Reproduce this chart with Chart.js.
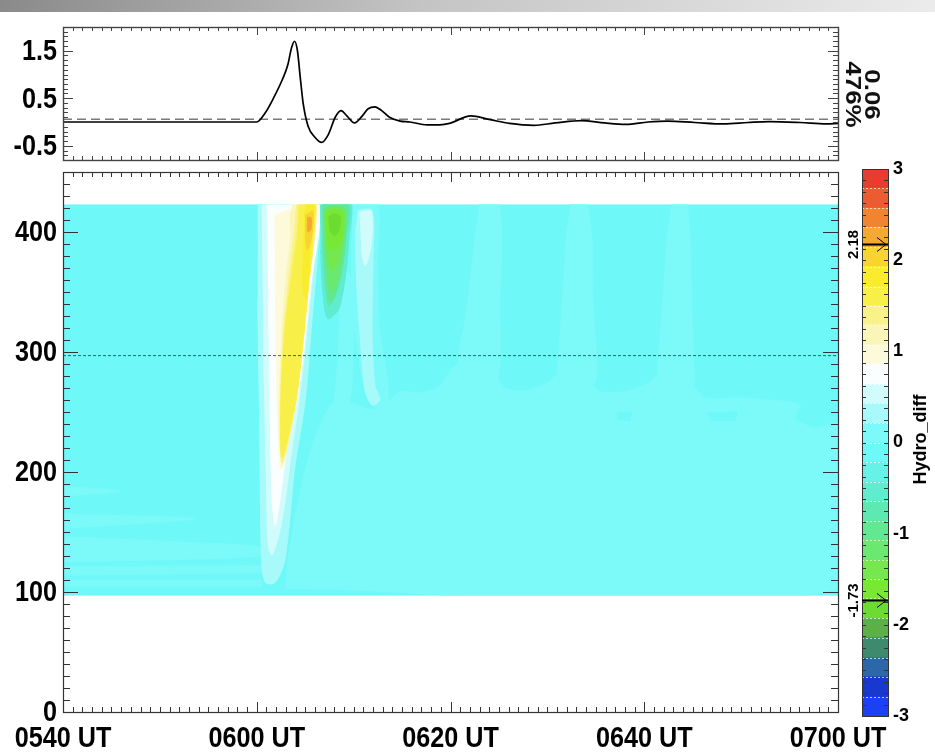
<!DOCTYPE html>
<html>
<head>
<meta charset="utf-8">
<script src="https://cdn.jsdelivr.net/npm/chart.js@4.4.1/dist/chart.umd.min.js"></script>
<style>
html,body{margin:0;padding:0;background:#fff;}
body{width:935px;height:754px;position:relative;overflow:hidden;}
#bar{position:absolute;left:0;top:0;width:935px;height:12px;background:linear-gradient(to right,#8a8a8a,#c4c4c4 45%,#ebebeb);}
canvas{position:absolute;}
</style>
</head>
<body>
<div id="bar"></div>
<canvas id="topc" width="935" height="168" style="left:0;top:0;width:935px;height:168px"></canvas>
<canvas id="mainc" width="935" height="586" style="left:0;top:168px;width:935px;height:586px"></canvas>
<canvas id="cbc" width="95" height="604" style="left:840px;top:150px;width:95px;height:604px"></canvas>
<script>
// ---------------- DATA ----------------
const timeTickValues = [0, 20, 40, 60, 80];             // minutes after 05:40 UT
const timeTickLabels = ['0540 UT', '0600 UT', '0620 UT', '0640 UT', '0700 UT'];
const altTickValues = [0, 100, 200, 300, 400];
const altTickLabels = ['0', '100', '200', '300', '400'];
const topTickValues = [-0.5, 0.5, 1.5];
const topTickLabels = ['-0.5', '0.5', '1.5'];
const cbTickValues = [-3, -2, -1, 0, 1, 2, 3];
const cbTickLabels = ['-3', '-2', '-1', '0', '1', '2', '3'];

// top panel profile
const profileTimes = [0, 20.0, 20.9, 21.7, 22.7, 23.2, 23.6, 23.9, 24.2, 24.5, 24.8, 25.3, 26.0, 26.7, 27.4, 28.1, 28.7, 29.3, 30.1, 30.9, 31.5, 32.2, 32.9, 33.7, 34.8, 35.8, 37.6, 38.9, 39.9, 42.1, 44.1, 46.1, 48.6, 50.8, 53.5, 55.9, 58.1, 60.4, 62.4, 65.2, 68.2, 70.7, 72.9, 76.1, 78.8, 80];
const profileValues = [0, 0, 0.2, 0.49, 0.92, 1.2, 1.57, 1.70, 1.5, 0.92, 0.38, -0.09, -0.32, -0.43, -0.26, 0.1, 0.24, 0.13, -0.02, 0.13, 0.28, 0.32, 0.24, 0.1, 0.02, 0.0, -0.06, -0.06, -0.03, 0.13, 0.05, -0.03, -0.07, -0.02, 0.03, -0.02, -0.05, 0.0, 0.02, -0.01, -0.04, -0.01, 0.01, -0.01, -0.04, -0.03];
const refLevel = 0.06;
const refLabel = '0.06';
const pctLabel = '476%';

// colour scale
const levels = [-3, -2.79, -2.57, -2.36, -2.14, -1.93, -1.71, -1.5, -1.29, -1.07, -0.86, -0.64, -0.43, -0.21, 0, 0.21, 0.43, 0.64, 0.86, 1.07, 1.29, 1.5, 1.71, 1.93, 2.14, 2.36, 2.57, 2.79, 3];
const bandColors = ['#1a40f8', '#1838d0', '#2c68a8', '#3e8a6e', '#5cb048', '#6cdc30', '#78e834', '#74e84c', '#6ae870', '#62e892', '#5ee8b2', '#60ecce', '#66f2e8', '#6ef8f8', '#7cf9f9', '#a8fafa', '#d2fcfc', '#fafefe', '#fdfadc', '#fbf6b8', '#f9f288', '#f8f048', '#f8ec2c', '#f8d432', '#f4aa32', '#f08430', '#ec5c30', '#e83c2e'];
const markerValues = [2.18, -1.73];
const markerLabels = ['2.18', '-1.73'];

// main field extent and reference altitude
const fieldTop = 423;
const fieldBottom = 97;
const cutAltitude = 297;

// contour regions: [minutes after 0540 UT, altitude]
const baseField = [[0, 97], [80, 97], [80, 423], [0, 423]];
const lowerField = [[22.9, 103], [80, 103], [80, 239], [77.6, 237], [75.6, 245], [76.1, 256], [73, 260], [69.9, 262], [66.3, 262], [65, 272], [63.7, 270], [61.6, 281], [60.4, 274], [58, 267], [55.4, 267], [54.7, 272], [52.9, 278], [51.3, 283], [50.1, 275], [47.7, 268], [45.6, 270], [44.8, 277], [42, 281], [40.5, 289], [38.9, 272], [36.9, 266], [34.8, 267], [33.2, 256], [31.7, 252], [29.6, 258], [28.1, 260], [26.3, 235], [25, 202], [23.9, 160], [23.2, 127]];
const streakA = [[43, 428], [44.8, 428], [45.3, 393], [45.1, 343], [44.9, 277], [42.8, 272], [40.8, 285], [41.5, 327], [42.3, 377], [42.6, 402]];
const streakB = [[52.5, 428], [53.9, 428], [54.6, 393], [54.7, 343], [55.1, 293], [54.7, 272], [51.3, 277], [51.3, 310], [51.6, 352], [52, 402]];
const streakC = [[62.9, 428], [64.1, 428], [64.7, 402], [64.9, 343], [65.1, 293], [65, 270], [61.6, 277], [61.6, 310], [62, 352], [62.4, 402]];
const leftStreak1 = [[0, 188], [5.9, 184], [0, 180]];
const leftStreak2 = [[0, 165], [13.6, 161], [0, 153]];
const leftStreak3 = [[0, 146], [14.1, 141], [20.5, 137], [20.5, 130], [0, 125]];
const leftStreak4 = [[0, 121], [20.5, 122], [20.5, 116], [0, 114]];
const leftStreak5 = [[0, 110], [20.5, 110], [20.5, 105], [0, 105]];
const darkPatch1 = [[57.2, 249], [58.7, 250], [58.5, 243], [57.2, 244]];
const darkPatch2 = [[66.5, 249], [69.6, 250], [69.4, 243], [66.8, 243]];
const midStreak = [[29.1, 368], [29.9, 360], [29.8, 268], [28.6, 239], [27.6, 218], [27.1, 222], [28.1, 268], [28.6, 335]];
const rightStreak1 = [[29.9, 428], [32.4, 428], [32.5, 377], [32.7, 318], [33.5, 277], [33.5, 256], [32.5, 252], [31.3, 264], [30.4, 302], [29.8, 343], [29.8, 393]];
const rightStreak2 = [[30.4, 418], [31.9, 418], [32.0, 377], [31.9, 318], [32.2, 272], [32.7, 260], [31.9, 256], [31.2, 268], [30.7, 310], [30.3, 360], [30.2, 402]];
const rightStreak3 = [[30.6, 417], [31.8, 417], [31.8, 389], [31.2, 372], [30.8, 385]];
const wedge1 = [[20.1, 428], [26.5, 428], [26.3, 385], [25.7, 327], [25, 260], [23.9, 202], [22.9, 127], [21.9, 108], [20.9, 108], [20.5, 127], [20.3, 243], [20.1, 343]];
const wedge2 = [[20.5, 428], [26.3, 428], [26.1, 393], [25.5, 343], [24.5, 268], [23.6, 218], [22.6, 160], [21.6, 131], [21.2, 139], [21, 193], [20.7, 302]];
const wedge3 = [[21, 428], [26.2, 428], [25.5, 352], [24.3, 268], [23.2, 227], [22.4, 177], [21.9, 156], [21.6, 177], [21.4, 243], [21.2, 343]];
const wedge4 = [[21.8, 414], [24.0, 421], [24.5, 428], [26.1, 428], [25.3, 352], [24.2, 268], [23.3, 227], [22.5, 202], [22.2, 227], [22.0, 302], [21.9, 368]];
const wedge5 = [[23.4, 414], [24.2, 428], [26.1, 428], [25.3, 352], [24.2, 268], [23.3, 227], [22.6, 205], [22.3, 250], [22.6, 318], [23.0, 360], [23.5, 395]];
const wedge6 = [[24.0, 416], [24.4, 428], [26.1, 428], [25.3, 352], [24.2, 268], [23.3, 227], [22.6, 208], [22.4, 250], [22.8, 318], [23.3, 360], [23.8, 395]];
const wedge7 = [[24.3, 418], [24.6, 428], [26.0, 428], [25.3, 352], [24.2, 268], [23.4, 235], [22.6, 212], [22.5, 260], [22.9, 318], [23.4, 352], [24.1, 393]];
const wedge8 = [[24.9, 415], [25.3, 424], [25.9, 424], [25.6, 390], [25.1, 345], [24.8, 350], [24.8, 390]];
const wedge9 = [[25.0, 414], [25.8, 417], [25.6, 393], [25.2, 385], [25.0, 398]];
const wedge10 = [[25.2, 412], [25.6, 412], [25.6, 402.5], [25.3, 400], [25.2, 406]];
const green1 = [[26.5, 428], [29.6, 428], [29.5, 393], [29.1, 360], [28.4, 335], [27.3, 328], [26.8, 352], [26.6, 385]];
const green2 = [[26.7, 428], [29.4, 428], [29.2, 393], [28.7, 364], [27.9, 343], [27.4, 339], [27.0, 360], [26.8, 393]];
const green3 = [[26.8, 428], [29.2, 428], [29.1, 393], [28.7, 365], [28.0, 345], [27.5, 342], [27.1, 368], [26.9, 393]];
const green4 = [[26.9, 418], [27.5, 421], [28.6, 421], [29.1, 418], [29.0, 393], [28.6, 370], [28.0, 352], [27.6, 350], [27.2, 372], [27.0, 395]];
const green5 = [[27.0, 417], [27.6, 420], [28.5, 420], [29.0, 417], [28.9, 395], [28.4, 377], [27.8, 368], [27.4, 377], [27.1, 398]];
const green6 = [[27.1, 415], [27.7, 418], [28.4, 418], [28.9, 415], [28.8, 398], [28.3, 388], [27.6, 386], [27.2, 400]];
const green7 = [[27.4, 413], [28.0, 415], [28.6, 413], [28.5, 402], [28.0, 397], [27.5, 402]];

// region table: [polygon, contour value]  (back to front)
const regionTable = [
  [baseField, -0.1], [lowerField, 0.1],
  [leftStreak1, 0.1], [leftStreak2, 0.1], [leftStreak3, 0.1], [leftStreak4, 0.1], [leftStreak5, 0.1],
  [streakA, 0.1], [streakB, 0.1], [streakC, 0.1], [darkPatch1, -0.1], [darkPatch2, -0.1],
  [midStreak, 0.1], [rightStreak1, 0.1], [rightStreak2, 0.32], [rightStreak3, 0.53],
  [wedge1, 0.32], [wedge2, 0.53], [wedge3, 0.75], [wedge4, 0.96], [wedge5, 1.18], [wedge6, 1.4], [wedge7, 1.6], [wedge8, 1.82], [wedge9, 2.03], [wedge10, 2.18],
  [green1, -0.53], [green2, -0.75], [green3, -0.96], [green4, -1.18], [green5, -1.4], [green6, -1.6], [green7, -1.73]
];

// ---------------- HELPERS ----------------
const WIDE = "'Liberation Sans',Arial,Helvetica,sans-serif";
function bandColor(v) {
  for (let i = 0; i < levels.length - 1; i++) if (v >= levels[i] && v < levels[i + 1]) return bandColors[i];
  return v < levels[0] ? bandColors[0] : bandColors[bandColors.length - 1];
}
const rectish = new Set([baseField, leftStreak4, leftStreak5, darkPatch1, darkPatch2]);

const frameTicks = {
  id: 'frameTicks',
  afterDraw(chart, args, o) {
    const {ctx, chartArea: a} = chart;
    const xs = chart.scales.x, ys = chart.scales.y;
    ctx.save();
    ctx.strokeStyle = o.color;
    ctx.lineWidth = 1;
    ctx.beginPath();
    const near = (v, list) => list.some(m => Math.abs(m - v) < 1e-6);
    for (let k = Math.ceil(xs.min / o.xStep - 1e-9); k * o.xStep <= xs.max + 1e-9; k++) {
      const v = k * o.xStep;
      const px = Math.round(xs.getPixelForValue(v)) + 0.5;
      const len = near(v, o.xMajor) ? o.xMajorLen : o.xMinorLen;
      ctx.moveTo(px, a.bottom); ctx.lineTo(px, a.bottom - len);
      ctx.moveTo(px, a.top); ctx.lineTo(px, a.top + len);
    }
    for (let k = Math.ceil(ys.min / o.yStep - 1e-9); k * o.yStep <= ys.max + 1e-9; k++) {
      const v = k * o.yStep;
      const py = Math.round(ys.getPixelForValue(v)) + 0.5;
      const len = near(v, o.yMajor) ? o.yMajorLen : o.yMinorLen;
      ctx.moveTo(a.left, py); ctx.lineTo(a.left + len, py);
      ctx.moveTo(a.right, py); ctx.lineTo(a.right - len, py);
    }
    ctx.stroke();
    ctx.lineWidth = o.frameWidth;
    ctx.strokeRect(Math.round(a.left) + 0.5, Math.round(a.top) + 0.5, Math.round(a.right - a.left), Math.round(a.bottom - a.top));
    ctx.restore();
  }
};

// tick labels in a bold, vertically elongated face (drawn at the scale's tick pixels)
const squeezedLabels = {
  id: 'squeezedLabels',
  afterDraw(chart, args, o) {
    const {ctx, chartArea: a} = chart;
    ctx.save();
    ctx.fillStyle = '#000';
    ctx.font = 'bold ' + o.size + 'px ' + WIDE;
    if (o.y) {
      const ys = chart.scales.y;
      ctx.textAlign = 'right'; ctx.textBaseline = 'middle';
      o.y.values.forEach((v, i) => {
        ctx.save();
        ctx.translate(a.left - 6, ys.getPixelForValue(v) + 1);
        ctx.scale(o.squeeze, 1);
        ctx.fillText(o.y.labels[i], 0, 0);
        ctx.restore();
      });
    }
    if (o.x) {
      const xs = chart.scales.x;
      ctx.textAlign = 'center'; ctx.textBaseline = 'middle';
      o.x.values.forEach((v, i) => {
        ctx.save();
        ctx.translate(xs.getPixelForValue(v), a.bottom + 27);
        ctx.scale(o.squeeze, 1);
        ctx.fillText(o.x.labels[i], 0, 0);
        ctx.restore();
      });
    }
    ctx.restore();
  }
};

const fieldClip = {
  id: 'fieldClip',
  beforeDatasetsDraw(chart) {
    const {ctx, chartArea: a} = chart;
    const ys = chart.scales.y;
    const t = ys.getPixelForValue(fieldTop), b = ys.getPixelForValue(fieldBottom);
    ctx.save();
    ctx.beginPath();
    ctx.rect(a.left, t, a.right - a.left, b - t);
    ctx.clip();
  },
  afterDatasetsDraw(chart) { chart.ctx.restore(); }
};

const topLabels = {
  id: 'topLabels',
  afterDraw(chart) {
    const {ctx, chartArea: a} = chart;
    const cy = (a.top + a.bottom) / 2 + 1;
    ctx.save();
    ctx.fillStyle = '#111';
    ctx.font = "bold 22px " + WIDE;
    ctx.textAlign = 'center';
    ctx.textBaseline = 'middle';
    [[pctLabel, a.right + 14], [refLabel, a.right + 33]].forEach(([t, x]) => {
      ctx.save(); ctx.translate(x, cy); ctx.rotate(Math.PI / 2); ctx.scale(1.18, 1); ctx.fillText(t, 0, 0); ctx.restore();
    });
    ctx.restore();
  }
};

const cbDecor = {
  id: 'cbDecor',
  afterDraw(chart) {
    const {ctx, chartArea: a} = chart;
    const ys = chart.scales.y;
    ctx.save();
    ctx.strokeStyle = 'rgba(255,255,255,0.7)';
    ctx.lineWidth = 1;
    ctx.setLineDash([2, 2]);
    ctx.beginPath();
    for (let i = 1; i < levels.length - 1; i++) {
      const py = Math.round(ys.getPixelForValue(levels[i])) + 0.5;
      ctx.moveTo(a.left, py); ctx.lineTo(a.right, py);
    }
    ctx.stroke();
    ctx.setLineDash([]);
    ctx.strokeStyle = '#333';
    ctx.beginPath();
    for (let k = -24; k <= 24; k++) {
      const py = Math.round(ys.getPixelForValue(k * 0.125)) + 0.5;
      ctx.moveTo(a.left, py); ctx.lineTo(a.left + 4, py);
      ctx.moveTo(a.right, py); ctx.lineTo(a.right - 4, py);
    }
    ctx.stroke();
    ctx.strokeRect(Math.round(a.left) + 0.5, Math.round(a.top) + 0.5, Math.round(a.right - a.left), Math.round(a.bottom - a.top));
    markerValues.forEach((v, i) => {
      const py = Math.round(ys.getPixelForValue(v)) + 0.5;
      ctx.strokeStyle = '#000';
      ctx.lineWidth = 2;
      ctx.beginPath(); ctx.moveTo(a.left, py); ctx.lineTo(a.right, py); ctx.stroke();
      ctx.lineWidth = 1;
      ctx.beginPath();
      ctx.moveTo(a.right - 11, py - 7); ctx.lineTo(a.right - 2, py); ctx.lineTo(a.right - 11, py + 7);
      ctx.stroke();
      ctx.save();
      ctx.fillStyle = '#000';
      ctx.font = "bold 15px " + WIDE;
      ctx.textAlign = 'center'; ctx.textBaseline = 'middle';
      ctx.translate(a.left - 8, py); ctx.rotate(-Math.PI / 2);
      ctx.fillText(markerLabels[i], 0, 0);
      ctx.restore();
    });
    ctx.fillStyle = '#000';
    ctx.font = "bold 18px " + WIDE;
    ctx.textAlign = 'center'; ctx.textBaseline = 'middle';
    ctx.translate(a.right + 33, ys.getPixelForValue(0) - 3);
    ctx.rotate(-Math.PI / 2);
    ctx.fillText('Hydro_diff', 0, 0);
    ctx.restore();
  }
};

const common = {
  responsive: false, animation: false, devicePixelRatio: 1, events: [],
  plugins: {legend: {display: false}, tooltip: {enabled: false}}
};
const noPadY = s => { s.paddingTop = 0; s.paddingBottom = 0; };
const noPadX = s => { s.paddingLeft = 0; s.paddingRight = 0; };

// ---------------- TOP PANEL ----------------
new Chart(document.getElementById('topc'), {
  type: 'scatter',
  data: {
    datasets: [
      {data: profileTimes.map((t, i) => ({x: t, y: profileValues[i]})), showLine: true, borderColor: '#000', borderWidth: 1.7, pointRadius: 0, cubicInterpolationMode: 'monotone', fill: false, order: 0},
      {data: [{x: 0, y: refLevel}, {x: 80, y: refLevel}], showLine: true, borderColor: '#7a7a7a', borderWidth: 1.5, borderDash: [9, 5], pointRadius: 0, fill: false, order: 1}
    ]
  },
  options: Object.assign({}, common, {
    layout: {padding: {left: 0, right: 97, top: 27, bottom: 8}},
    scales: {
      x: {type: 'linear', min: 0, max: 80, display: false},
      y: {
        type: 'linear', min: -0.8, max: 2.0,
        afterBuildTicks: s => { s.ticks = topTickValues.map(v => ({value: v})); },
        afterFit: s => { s.width = 63; noPadY(s); },
        ticks: {display: false},
        grid: {display: false, drawTicks: false}, border: {display: false}
      }
    },
    plugins: Object.assign({}, common.plugins, {
      frameTicks: {color: '#444', frameWidth: 1.4, xStep: 1, xMajor: timeTickValues, xMinorLen: 4, xMajorLen: 8, yStep: 0.1, yMajor: topTickValues, yMinorLen: 5, yMajorLen: 10},
      squeezedLabels: {size: 30, squeeze: 0.84, y: {values: topTickValues, labels: topTickLabels}}
    })
  }),
  plugins: [frameTicks, squeezedLabels, topLabels]
});

// ---------------- MAIN PANEL ----------------
const regionDatasets = regionTable.map(([pts, lv], i) => ({
  data: pts.map(p => ({x: p[0], y: p[1]})),
  showLine: true, fill: 'shape',
  backgroundColor: bandColor(lv), borderColor: bandColor(lv), borderWidth: 1,
  pointRadius: 0, tension: rectish.has(pts) ? 0 : 0.3, order: 1000 - i
}));
regionDatasets.push({
  data: [{x: 0, y: cutAltitude}, {x: 80, y: cutAltitude}], showLine: true, fill: false,
  borderColor: 'rgba(50,70,70,0.85)', borderWidth: 1, borderDash: [3, 2], pointRadius: 0, order: 0
});

new Chart(document.getElementById('mainc'), {
  type: 'scatter',
  data: {datasets: regionDatasets},
  options: Object.assign({}, common, {
    layout: {padding: {left: 0, right: 97, top: 4, bottom: 0}},
    scales: {
      x: {
        type: 'linear', min: 0, max: 80,
        afterBuildTicks: s => { s.ticks = timeTickValues.map(v => ({value: v})); },
        afterFit: s => { s.height = 42; noPadX(s); },
        ticks: {display: false},
        grid: {display: false, drawTicks: false}, border: {display: false}
      },
      y: {
        type: 'linear', min: 0, max: 450,
        afterBuildTicks: s => { s.ticks = altTickValues.map(v => ({value: v})); },
        afterFit: s => { s.width = 63; noPadY(s); },
        ticks: {display: false},
        grid: {display: false, drawTicks: false}, border: {display: false}
      }
    },
    plugins: Object.assign({}, common.plugins, {
      frameTicks: {color: '#333', frameWidth: 1.2, xStep: 1, xMajor: timeTickValues, xMinorLen: 5, xMajorLen: 10, yStep: 10, yMajor: altTickValues, yMinorLen: 7, yMajorLen: 15},
      squeezedLabels: {size: 30, squeeze: 0.84, y: {values: altTickValues, labels: altTickLabels}, x: {values: timeTickValues, labels: timeTickLabels}}
    })
  }),
  plugins: [fieldClip, frameTicks, squeezedLabels]
});

// ---------------- COLOUR BAR ----------------
new Chart(document.getElementById('cbc'), {
  type: 'bar',
  data: {
    labels: ['Hydro_diff'],
    datasets: bandColors.map((c, i) => ({
      data: [[levels[i], levels[i + 1]]], backgroundColor: c, borderWidth: 0,
      barPercentage: 1, categoryPercentage: 1, grouped: false
    }))
  },
  options: Object.assign({}, common, {
    layout: {padding: {left: 22, right: 0, top: 19, bottom: 38}},
    scales: {
      x: {display: false},
      y: {
        position: 'right', min: -3, max: 3,
        afterBuildTicks: s => { s.ticks = cbTickValues.map(v => ({value: v})); },
        afterFit: s => { s.width = 47; noPadY(s); },
        ticks: {font: {family: WIDE, size: 18, weight: 'bold'}, color: '#000', padding: 5, callback: v => cbTickLabels[cbTickValues.indexOf(v)]},
        grid: {display: false, drawTicks: false}, border: {display: false}
      }
    }
  }),
  plugins: [cbDecor]
});
</script>
</body>
</html>
